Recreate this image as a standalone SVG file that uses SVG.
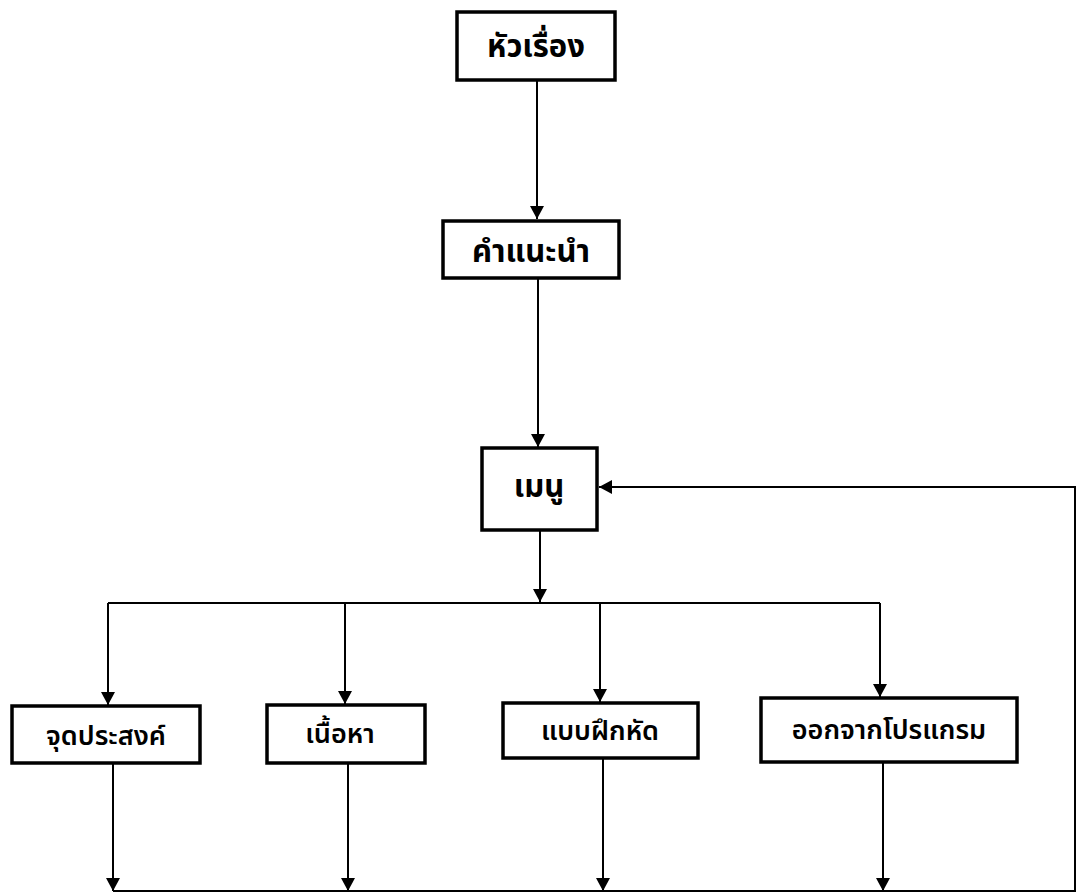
<svg xmlns="http://www.w3.org/2000/svg" width="1077" height="893" viewBox="0 0 1077 893">
<style>
.box{fill:#fff;stroke:#000;stroke-width:3.5}
.lbl{font-family:"Noto Sans Thai","Noto Sans","DejaVu Sans","Liberation Sans",sans-serif;fill:#000;text-anchor:middle}
.t1{font-size:31px;font-weight:bold}
.t2{font-size:27px;font-weight:600}
.c{fill:none;stroke:#000;stroke-width:2}
</style>
<defs>
<marker id="ah" markerUnits="userSpaceOnUse" markerWidth="14" markerHeight="14" refX="13" refY="7" orient="auto">
<path d="M0,0 L13,7 L0,14 z" fill="#000"/>
</marker>
</defs>
<rect width="1077" height="893" fill="#fff"/>
<g id="connectors">
<path class="c" d="M537,80 V219" marker-end="url(#ah)"/>
<path class="c" d="M538,278 V447" marker-end="url(#ah)"/>
<path class="c" d="M540,530 V602" marker-end="url(#ah)"/>
<path class="c" d="M108,603 H880"/>
<path class="c" d="M108,603 V705" marker-end="url(#ah)"/>
<path class="c" d="M345,603 V704" marker-end="url(#ah)"/>
<path class="c" d="M600,603 V702" marker-end="url(#ah)"/>
<path class="c" d="M880,603 V697" marker-end="url(#ah)"/>
<path class="c" d="M113,763 V891" marker-end="url(#ah)"/>
<path class="c" d="M348,763 V891" marker-end="url(#ah)"/>
<path class="c" d="M603,758 V891" marker-end="url(#ah)"/>
<path class="c" d="M883,762 V891" marker-end="url(#ah)"/>
<path class="c" d="M113,891 H1075 V487 H599" marker-end="url(#ah)"/>
</g>
<g id="n1"><rect class="box" x="457" y="12" width="158" height="68"/><text class="lbl t1" x="536" y="57">หัวเรื่อง</text></g>
<g id="n2"><rect class="box" x="443" y="221" width="176" height="57"/><text class="lbl t1" x="531" y="262">คำแนะนำ</text></g>
<g id="n3"><rect class="box" x="482" y="448" width="115" height="82"/><text class="lbl t1" x="539" y="497">เมนู</text></g>
<g id="n4"><rect class="box" x="12" y="706" width="188" height="57"/><text class="lbl t2" x="106" y="745">จุดประสงค์</text></g>
<g id="n5"><rect class="box" x="267" y="705" width="158" height="58"/><text class="lbl t2" x="340" y="743">เนื้อหา</text></g>
<g id="n6"><rect class="box" x="503" y="703" width="195" height="55"/><text class="lbl t2" x="600" y="740">แบบฝึกหัด</text></g>
<g id="n7"><rect class="box" x="761" y="698" width="256" height="64"/><text class="lbl t2" x="889" y="739">ออกจากโปรแกรม</text></g>
</svg>
